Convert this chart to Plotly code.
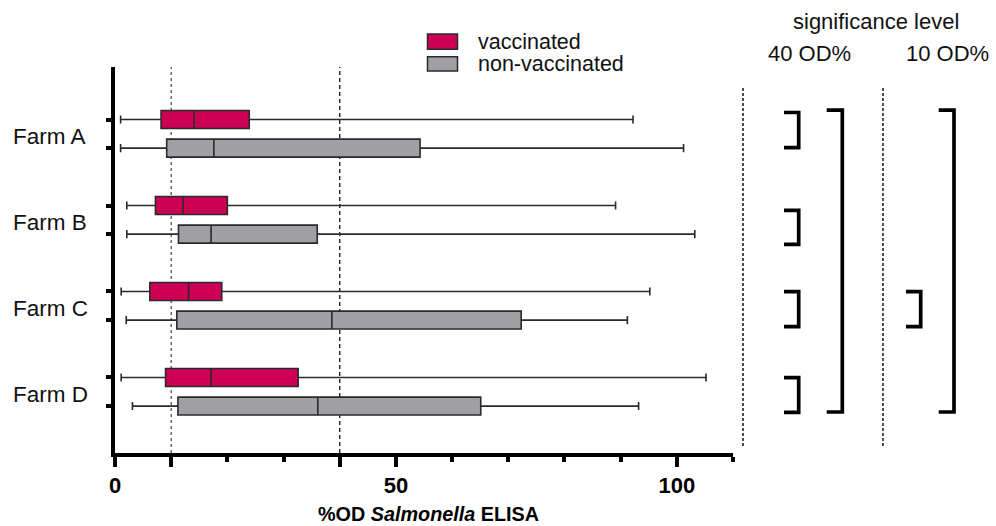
import plotly.graph_objects as go

# ---------------- data ----------------
farms = ["Farm A", "Farm B", "Farm C", "Farm D"]
groups = ["vaccinated", "non-vaccinated"]

vacc_low = [1.0, 2.1, 1.1, 1.1]
vacc_q1 = [8.2, 7.2, 6.2, 9.0]
vacc_med = [14.1, 12.1, 13.1, 17.1]
vacc_q3 = [23.9, 20.0, 19.0, 32.6]
vacc_high = [92.2, 89.1, 95.2, 105.2]

non_low = [1.0, 2.1, 2.0, 3.1]
non_q1 = [9.2, 11.3, 11.0, 11.2]
non_med = [17.6, 17.1, 38.6, 36.1]
non_q3 = [54.3, 36.0, 72.3, 65.1]
non_high = [101.2, 103.2, 91.2, 93.2]

thresholds = [10, 40]
x_tick_vals = [0, 10, 40, 50, 100]
x_tick_text = ["0", "", "", "50", "100"]
x_title = "%OD <i>Salmonella</i> ELISA"
sig_levels = ["40 OD%", "10 OD%"]

# ---------------- layout geometry ----------------
W, H = 996, 526
ML, MR, MT, MB = 115, 263, 67, 73
PW, PH = W - ML - MR, H - MT - MB

def px(xp):
    return (xp - ML) / PW

def py(yp):
    return 1 - (yp - MT) / PH

OFF = 0.1663
pos_vacc = [i - OFF for i in range(len(farms))]
pos_non = [i + OFF for i in range(len(farms))]

RED = "#CC0055"
GRAY = "#A09FA4"
EDGE = "#2a2a2a"
FONT = "Liberation Sans, Arial, sans-serif"

fig = go.Figure()

fig.add_trace(go.Box(
    orientation="h", y=pos_vacc, q1=vacc_q1, median=vacc_med, q3=vacc_q3,
    lowerfence=vacc_low, upperfence=vacc_high, width=0.209, whiskerwidth=0.45,
    fillcolor=RED, line=dict(color=EDGE, width=1.6), boxpoints=False,
    name=groups[0], showlegend=False, hoverinfo="skip"))
fig.add_trace(go.Box(
    orientation="h", y=pos_non, q1=non_q1, median=non_med, q3=non_q3,
    lowerfence=non_low, upperfence=non_high, width=0.209, whiskerwidth=0.45,
    fillcolor=GRAY, line=dict(color=EDGE, width=1.6), boxpoints=False,
    name=groups[1], showlegend=False, hoverinfo="skip"))

shapes = []
# threshold lines
shapes.append(dict(type="line", xref="x", yref="paper", x0=thresholds[0], x1=thresholds[0],
                   y0=0, y1=1, line=dict(color="#444", width=1.2, dash="dot"), layer="below"))
shapes.append(dict(type="line", xref="x", yref="paper", x0=thresholds[1], x1=thresholds[1],
                   y0=0, y1=1, line=dict(color="#222", width=1.4, dash="4px,3px"), layer="below"))

# right panel dashed separators
for xx in [743, 883]:
    shapes.append(dict(type="line", xref="paper", yref="paper", x0=px(xx), x1=px(xx),
                       y0=py(88), y1=py(447), line=dict(color="#222", width=1.6, dash="3px,2px")))

def bracket(xl, xr, yt, yb):
    p = "M {} {} L {} {} L {} {} L {} {}".format(px(xl), py(yt), px(xr), py(yt),
                                                 px(xr), py(yb), px(xl), py(yb))
    return dict(type="path", xref="paper", yref="paper", path=p,
                line=dict(color="black", width=3.7))

for yt, yb in [(112.5, 147.7), (210.3, 244.3), (291.7, 326.7), (377.7, 412.3)]:
    shapes.append(bracket(784, 798.7, yt, yb))
shapes.append(bracket(826.7, 842.3, 110.2, 412))
shapes.append(bracket(906, 920.7, 291.7, 326.7))
shapes.append(bracket(938.7, 954, 110.2, 412))

# legend swatches
shapes.append(dict(type="rect", xref="paper", yref="paper", x0=px(427.5), x1=px(457.5),
                   y0=py(49.3), y1=py(34), fillcolor=RED, line=dict(color=EDGE, width=1.5)))
shapes.append(dict(type="rect", xref="paper", yref="paper", x0=px(427.5), x1=px(457.5),
                   y0=py(71), y1=py(56.7), fillcolor=GRAY, line=dict(color=EDGE, width=1.5)))

annotations = []
for i, f in enumerate(farms):
    annotations.append(dict(text=f, xref="paper", yref="y", x=px(11), y=i, xanchor="left",
                            yanchor="middle", yshift=-3, showarrow=False,
                            font=dict(family=FONT, size=22.5, color="#111")))
annotations.append(dict(text=groups[0], xref="paper", yref="paper", x=px(476), y=py(42.3),
                        xanchor="left", yanchor="middle", showarrow=False, height=20,
                        font=dict(family=FONT, size=21.5, color="#111")))
annotations.append(dict(text=groups[1], xref="paper", yref="paper", x=px(476), y=py(64),
                        xanchor="left", yanchor="middle", showarrow=False, height=20,
                        font=dict(family=FONT, size=21.5, color="#111")))
annotations.append(dict(text="significance level", xref="paper", yref="paper", x=px(875.5),
                        y=py(21.6), xanchor="center", yanchor="middle", showarrow=False,
                        font=dict(family=FONT, size=22, color="#111")))
annotations.append(dict(text=sig_levels[0], xref="paper", yref="paper", x=px(809), y=py(53.3),
                        xanchor="center", yanchor="middle", showarrow=False,
                        font=dict(family=FONT, size=22, color="#111")))
annotations.append(dict(text=sig_levels[1], xref="paper", yref="paper", x=px(947.5), y=py(53.3),
                        xanchor="center", yanchor="middle", showarrow=False,
                        font=dict(family=FONT, size=22, color="#111")))
# x-axis title
annotations.append(dict(text=x_title, xref="paper", yref="paper", x=px(428), y=py(513.5),
                        xanchor="center", yanchor="middle", showarrow=False,
                        font=dict(family=FONT, size=19.8, color="black", weight="bold")))

fig.update_layout(
    width=W, height=H, margin=dict(l=ML, r=MR, t=MT, b=MB, autoexpand=False),
    paper_bgcolor="white", plot_bgcolor="white",
    shapes=shapes, annotations=annotations, showlegend=False,
    xaxis=dict(range=[0, 110], showgrid=False, zeroline=False, showline=True,
               linecolor="black", linewidth=4, ticks="outside", ticklen=10, tickwidth=4,
               tickcolor="black", tickvals=x_tick_vals, ticktext=x_tick_text,
               tickfont=dict(family=FONT, size=22, color="black", weight="bold"),
               minor=dict(dtick=10, tick0=0, ticks="outside", ticklen=5, tickwidth=4,
                          tickcolor="black", showgrid=False)),
    yaxis=dict(range=[3.712, -0.777], showgrid=False, zeroline=False, showline=True,
               linecolor="black", linewidth=4, ticks="outside", ticklen=5, tickwidth=4,
               tickcolor="black", tickvals=pos_vacc + pos_non, showticklabels=False),
)

fig.write_html("out.html", config={"displayModeBar": False},
               post_script="document.body.style.margin='0px';document.body.style.overflow='hidden';")
